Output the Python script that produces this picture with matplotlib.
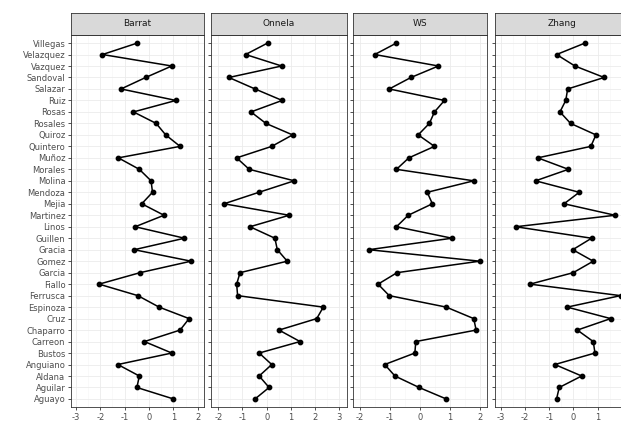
import matplotlib
matplotlib.use("Agg")
from matplotlib import pyplot as plt
import numpy as np

plt.rcParams['axes.unicode_minus'] = False
plt.rcParams['font.family'] = 'DejaVu Sans'

# nomi, od vrha prema dnu
names = ["Villegas", "Velazquez", "Vazquez", "Sandoval", "Salazar", "Ruiz", "Rosas",
         "Rosales", "Quiroz", "Quintero", "Muñoz", "Morales", "Molina", "Mendoza",
         "Mejia", "Martinez", "Linos", "Guillen", "Gracia", "Gomez", "Garcia",
         "Fiallo", "Ferrusca", "Espinoza", "Cruz", "Chaparro", "Carreon", "Bustos",
         "Anguiano", "Aldana", "Aguilar", "Aguayo"]

panels = ["Barrat", "Onnela", "WS", "Zhang"]

barrat = [-0.48, -1.91, 0.93, -0.14, -1.15, 1.10, -0.64, 0.29, 0.68, 1.27,
          -1.26, -0.40, 0.08, 0.14, -0.30, 0.61, -0.57, 1.45, -0.61, 1.72,
          -0.37, -2.05, -0.46, 0.41, 1.64, 1.27, -0.19, 0.93, -1.28, -0.40,
          -0.50, 1.00]
onnela = [0.04, -0.87, 0.62, -1.56, -0.48, 0.64, -0.65, -0.03, 1.07, 0.21,
          -1.24, -0.72, 1.14, -0.32, -1.76, 0.93, -0.69, 0.34, 0.44, 0.85,
          -1.10, -1.24, -1.20, 2.34, 2.07, 0.51, 1.38, -0.31, 0.21, -0.31,
          0.10, -0.48]
ws = [-0.78, -1.50, 0.61, -0.30, -1.02, 0.81, 0.48, 0.31, -0.06, 0.48,
      -0.37, -0.78, 1.78, 0.24, 0.41, -0.39, -0.78, 1.06, -1.70, 1.98,
      -0.76, -1.39, -1.02, 0.87, 1.78, 1.86, -0.14, -0.17, -1.17, -0.83,
      -0.03, 0.87]
zhang = [0.48, -0.70, 0.06, 1.27, -0.24, -0.32, -0.56, -0.12, 0.93, 0.72,
         -1.48, -0.21, -1.57, 0.24, -0.39, 1.72, -2.39, 0.75, -0.03, 0.82,
         -0.01, -1.80, 1.95, -0.26, 1.54, 0.16, 0.82, 0.89, -0.77, 0.34,
         -0.59, -0.70]

series = [barrat, onnela, ws, zhang]
xlims = [(-3.2, 2.25), (-2.3, 3.32), (-2.22, 2.22), (-3.25, 2.3)]
xticks = [[-3, -2, -1, 0, 1, 2], [-2, -1, 0, 1, 2, 3], [-2, -1, 0, 1, 2], [-3, -2, -1, 0, 1]]
# lijevi i desni rub panela u pikselima
px = [(71, 204), (211, 347), (353, 487), (495, 629)]

W, H = 621, 421
fig = plt.figure(figsize=(W / 100, H / 100), dpi=100)

y = np.arange(len(names))[::-1]
top, bot, strip_top = 35, 407, 13
txt = '#4D4D4D'

for i in range(4):
    l, r = px[i]
    lo, hi = xlims[i]
    ax = fig.add_axes([l / W, (H - bot) / H, (r - l) / W, (bot - top) / H])
    ax.set_facecolor('white')
    ax.set_xticks(xticks[i])
    mn = np.arange(-3.5, 3.6, 1.0)
    ax.set_xticks(mn[(mn > lo) & (mn < hi)], minor=True)
    ax.set_yticks(y)
    ax.set_xlim(lo, hi)
    ax.set_ylim(-0.7, len(names) - 0.3)
    if i == 0:
        ax.set_yticklabels(names)
    else:
        ax.set_yticklabels([])
        ax.tick_params(axis='y', length=0)
    ax.grid(True, which='major', color='#EBEBEB', linewidth=0.6)
    ax.grid(True, which='minor', axis='x', color='#F5F5F5', linewidth=0.4)
    ax.set_axisbelow(True)
    ax.tick_params(axis='both', which='major', labelsize=6, colors='#333333',
                   labelcolor=txt, length=2.5, width=0.6, pad=1.5)
    ax.tick_params(axis='x', which='minor', length=0)
    for s in ax.spines.values():
        s.set_color('#333333')
        s.set_linewidth(0.6)
    ax.plot(series[i], y, color='black', linewidth=1.1, zorder=3)
    ax.scatter(series[i], y, color='black', s=10, zorder=4)

    # traka s nazivom panela
    sx = fig.add_axes([l / W, (H - top) / H, (r - l) / W, (top - strip_top) / H])
    sx.set_facecolor('#D9D9D9')
    sx.set_xticks([])
    sx.set_yticks([])
    for s in sx.spines.values():
        s.set_color('#333333')
        s.set_linewidth(0.6)
    sx.text(0.5, 0.5, panels[i], ha='center', va='center', fontsize=6.5,
            color='#1A1A1A', transform=sx.transAxes)

fig.savefig("out.png", dpi=100)
